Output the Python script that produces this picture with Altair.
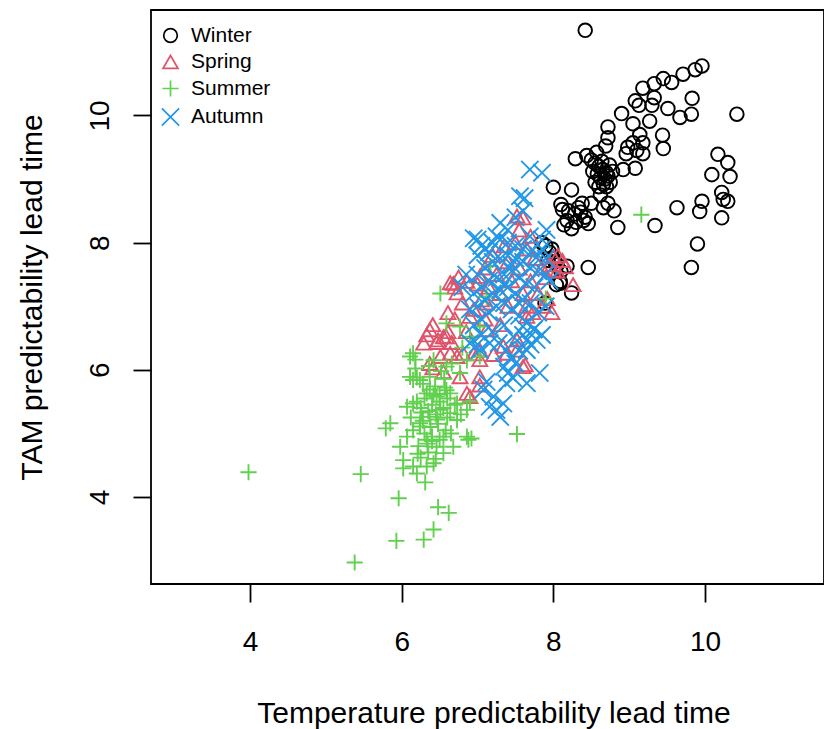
import altair as alt
import pandas as pd

seasons = ["Winter", "Spring", "Summer", "Autumn"]
colors = ["#000000", "#DF536B", "#61D04F", "#2297E6"]
shapes = ["circle", "triangle-up", "M-1,0L1,0M0,-1L0,1", "M-1,-1L1,1M-1,1L1,-1"]
sizes = [185, 300, 400, 225]
x_ticks = [4, 6, 8, 10]
y_ticks = [4, 6, 8, 10]

winter_x = [8.42, 9.96, 9.87, 9.71, 9.45, 9.56, 9.33, 9.18, 9.33, 9.08, 9.13, 9.30, 9.51, 9.83, 9.82,
            9.67, 10.42, 8.90, 9.27, 9.05, 8.72, 9.44, 9.45, 9.14, 9.18, 9.05, 8.98, 9.10, 8.96, 9.18,
            8.72, 8.69, 8.29, 8.44, 8.57, 8.50, 8.55, 8.60, 8.65, 8.70, 8.58, 8.62, 8.68, 8.72, 8.75,
            8.66, 8.55, 8.60, 8.70, 8.78, 8.52, 8.64, 8.74, 8.92, 9.08, 8.00, 8.24, 8.10, 8.12, 8.20,
            8.28, 8.33, 8.36, 8.42, 8.46, 8.30, 8.24, 8.18, 8.40, 8.38, 8.50, 8.14, 8.62, 8.72, 8.80,
            8.66, 8.85, 9.63, 9.34, 9.96, 9.93, 10.22, 10.24, 10.30, 10.09, 10.33, 10.30, 10.17, 10.22, 9.90,
            9.82, 8.46, 8.24, 8.04, 8.09, 7.90, 7.95, 8.00, 8.05, 8.10, 7.85, 7.98, 8.02, 7.89, 8.18,
            7.93, 8.09]
winter_y = [11.34, 10.78, 10.72, 10.65, 10.58, 10.52, 10.50, 10.43, 10.28, 10.23, 10.16, 10.16, 10.11, 10.27, 10.02,
            9.97, 10.02, 10.03, 9.91, 9.87, 9.82, 9.69, 9.48, 9.70, 9.57, 9.57, 9.50, 9.45, 9.40, 9.40,
            9.65, 9.52, 9.32, 9.37, 9.42, 9.30, 9.25, 9.20, 9.15, 9.10, 9.08, 9.02, 9.00, 9.05, 8.95,
            8.92, 8.95, 8.88, 8.88, 9.12, 9.12, 9.28, 9.22, 9.15, 9.17, 8.87, 8.83, 8.60, 8.52, 8.50,
            8.45, 8.55, 8.48, 8.40, 8.30, 8.32, 8.22, 8.35, 8.35, 8.62, 8.62, 8.28, 8.75, 8.62, 8.50,
            8.55, 8.24, 8.55, 8.27, 8.65, 8.49, 8.79, 8.68, 8.65, 9.07, 9.04, 9.26, 9.39, 8.39, 7.98,
            7.61, 7.61, 7.21, 7.34, 7.39, 7.95, 7.85, 7.75, 7.65, 7.55, 8.00, 7.90, 7.70, 7.05, 7.63,
            7.72, 7.36]

spring_x = [7.60, 7.52, 8.00, 8.26, 7.98, 7.63, 6.64, 6.73, 6.37, 6.61, 6.86, 7.03, 6.46, 6.66, 7.30,
            6.90, 7.03, 6.41, 6.55, 6.77, 7.52, 7.21, 7.34, 7.73, 7.86, 6.33, 7.10, 7.20, 7.35, 7.50,
            7.65, 7.75, 7.85, 7.40, 7.25, 7.15, 7.05, 6.95, 7.45, 7.55, 7.70, 7.60, 7.30, 7.00, 6.80,
            6.70, 6.85, 7.10, 7.40, 7.65, 7.80, 7.90, 8.05, 7.95, 7.70, 7.55, 8.06, 8.12, 8.16, 7.92,
            6.70, 6.75, 6.41, 6.48, 6.55, 6.61, 6.90, 7.12, 7.03, 7.39, 7.65, 7.03, 6.81, 6.64, 6.51,
            6.68, 6.29, 6.59, 6.37, 6.73, 7.03, 6.86, 7.60, 7.52, 8.00, 7.12, 6.95]
spring_y = [8.39, 8.42, 7.78, 7.34, 6.90, 6.08, 7.37, 7.21, 6.63, 6.90, 7.39, 7.47, 6.43, 6.43, 6.71,
            5.58, 5.76, 6.03, 5.97, 5.89, 6.47, 6.24, 6.37, 6.90, 7.00, 6.55, 7.60, 7.80, 7.95, 8.00,
            7.90, 7.75, 7.60, 7.70, 7.50, 7.30, 7.10, 6.95, 7.40, 7.60, 7.40, 7.20, 7.20, 7.35, 7.05,
            6.80, 6.60, 6.80, 7.00, 7.00, 7.20, 7.45, 7.55, 7.65, 8.10, 8.20, 7.80, 7.72, 7.62, 7.12,
            7.30, 7.46, 6.71, 6.47, 6.52, 6.60, 6.84, 6.63, 6.31, 6.26, 6.84, 6.16, 6.26, 6.26, 6.21,
            7.36, 6.42, 6.52, 6.10, 6.21, 5.89, 5.63, 6.05, 6.31, 7.57, 7.05, 6.25]

summer_x = [3.98, 5.46, 5.38, 5.93, 5.96, 6.29, 6.42, 6.48, 6.62, 6.31, 5.79, 7.52, 6.88, 6.92, 9.16,
            6.02, 6.11, 6.18, 6.15, 6.20, 6.37, 6.42, 6.50, 6.64, 6.73, 6.86, 6.90, 6.68, 6.55, 6.46,
            6.33, 6.24, 6.07, 5.98, 6.02, 6.15, 6.20, 6.33, 6.42, 6.20, 6.25, 6.30, 6.35, 6.40, 6.45,
            6.50, 6.55, 6.60, 6.28, 6.38, 6.48, 6.58, 6.30, 6.40, 6.50, 6.22, 6.35, 6.45, 6.25, 6.12,
            6.15, 6.60, 6.70, 6.78, 6.65, 6.51, 7.12, 7.90, 6.59, 6.77, 6.90, 7.03, 6.15, 6.42, 6.59,
            6.86, 7.03, 6.24, 6.11, 6.37, 6.77, 6.33, 6.46, 6.59, 6.73, 6.15, 6.07, 6.37, 6.51, 6.64,
            6.24, 5.85, 6.86, 6.40, 6.55, 7.17, 6.80, 6.28, 6.44, 6.56, 6.18, 6.36, 6.52, 6.66, 6.26,
            6.47, 6.34, 6.21, 6.57]
summer_y = [4.39, 4.36, 2.97, 3.31, 3.98, 3.33, 3.49, 3.84, 3.75, 4.23, 5.08, 4.99, 4.90, 4.92, 8.44,
            4.45, 6.21, 6.16, 5.84, 5.88, 5.69, 5.60, 5.62, 5.63, 5.21, 5.37, 5.50, 4.79, 4.69, 4.79,
            4.90, 5.11, 4.95, 4.79, 4.58, 4.48, 4.37, 4.48, 4.53, 5.50, 5.40, 5.55, 5.35, 5.45, 5.30,
            5.50, 5.40, 5.55, 5.20, 5.10, 5.15, 5.05, 5.00, 4.95, 4.90, 4.80, 4.70, 4.60, 4.62, 5.25,
            5.05, 5.25, 5.45, 5.30, 5.00, 7.20, 7.15, 7.12, 6.73, 6.68, 6.52, 6.68, 6.26, 6.15, 6.05,
            6.15, 6.21, 5.84, 5.89, 5.89, 5.95, 5.63, 5.58, 5.68, 5.47, 5.47, 5.42, 5.26, 5.37, 5.32,
            5.16, 5.16, 4.95, 4.88, 4.95, 7.63, 6.35, 5.78, 5.74, 5.86, 6.02, 6.06, 5.98, 6.10, 5.33,
            5.22, 4.84, 4.68, 5.72]

autumn_x = [7.69, 7.85, 7.56, 7.62, 6.95, 7.05, 7.30, 7.40, 7.69, 7.91, 7.85, 7.60, 7.50, 7.00, 7.10,
            7.20, 7.30, 7.40, 7.50, 7.60, 7.70, 7.80, 7.90, 7.00, 7.10, 7.20, 7.30, 7.40, 7.50, 7.60,
            7.70, 7.80, 7.90, 6.95, 7.05, 7.15, 7.25, 7.35, 7.45, 7.55, 7.65, 7.75, 6.90, 7.00, 7.10,
            7.20, 7.30, 7.40, 7.50, 7.60, 7.70, 6.95, 7.05, 7.15, 7.25, 7.35, 7.45, 7.55, 7.65, 7.75,
            7.85, 7.05, 7.20, 7.35, 7.00, 6.85, 6.80, 7.00, 7.82, 7.65, 7.38, 7.21, 7.34, 7.25, 7.30,
            7.16, 7.08, 7.47, 7.65, 7.74, 7.55, 7.45, 7.35, 7.50, 7.60, 7.70, 7.12, 7.40, 7.80, 7.90,
            7.95, 7.85, 7.65, 7.78, 7.47, 7.60, 6.90, 7.03, 7.16, 7.28, 7.38, 7.15, 7.25, 7.45, 7.35,
            7.55]
autumn_y = [9.15, 9.10, 8.73, 8.70, 8.07, 7.95, 8.31, 8.20, 8.10, 8.20, 8.05, 8.50, 8.40, 7.80, 7.90,
            8.00, 8.05, 8.00, 7.95, 7.90, 7.85, 7.80, 7.75, 7.50, 7.60, 7.70, 7.75, 7.80, 7.75, 7.70,
            7.60, 7.55, 7.50, 7.20, 7.30, 7.40, 7.45, 7.50, 7.55, 7.45, 7.35, 7.30, 6.95, 7.00, 7.10,
            7.20, 7.25, 7.30, 7.20, 7.10, 7.05, 6.70, 6.80, 6.90, 7.00, 7.05, 6.95, 6.85, 6.75, 6.65,
            6.55, 6.55, 6.60, 6.70, 6.40, 7.50, 7.30, 8.05, 5.95, 5.79, 5.79, 5.58, 5.47, 5.37, 5.26,
            5.42, 5.69, 5.87, 6.47, 6.63, 6.30, 6.20, 6.05, 6.10, 6.55, 6.40, 5.81, 5.95, 6.90, 7.00,
            7.40, 7.90, 6.31, 6.47, 6.52, 6.68, 6.42, 6.31, 6.42, 6.42, 6.31, 7.85, 8.10, 7.65, 7.35,
            7.05]

rows = []
for name, xs, ys in [("Winter", winter_x, winter_y), ("Spring", spring_x, spring_y),
                     ("Summer", summer_x, summer_y), ("Autumn", autumn_x, autumn_y)]:
    for xv, yv in zip(xs, ys):
        rows.append({"season": name, "x": xv, "y": yv})
df = pd.DataFrame(rows)
df["order"] = range(len(df))

FONT = "Liberation Sans"

legend = alt.Legend(
    title=None, orient="none", legendX=9, legendY=15,
    labelFontSize=21, labelFont=FONT, labelColor="black",
    symbolSize=110, symbolStrokeWidth=1.7, rowPadding=4.5, labelOffset=10,
    padding=0,
)

chart = alt.Chart(df).mark_point(filled=False, strokeWidth=1.9, opacity=1).encode(
    x=alt.X("x:Q",
            scale=alt.Scale(domain=[2.694, 11.569], nice=False, zero=False),
            axis=alt.Axis(values=x_ticks, grid=False, domain=False, tickSize=18, tickColor="black",
                          tickWidth=1.8, labelPadding=26, labelFontSize=28, labelFont=FONT,
                          labelColor="black", labelBaseline="top",
                          titleFont=FONT, titleFontSize=30, titleFontWeight="normal", titleColor="black",
                          titleX=342.5, titleY=138, titleAlign="center", titleBaseline="alphabetic"),
            title="Temperature predictability lead time"),
    y=alt.Y("y:Q",
            scale=alt.Scale(domain=[2.632, 11.659], nice=False, zero=False),
            axis=alt.Axis(values=y_ticks, grid=False, domain=False, tickSize=18, tickColor="black",
                          tickWidth=1.8, labelPadding=25, labelFontSize=28, labelFont=FONT,
                          labelColor="black",
                          labelAngle=270, labelAlign="center", labelBaseline="alphabetic",
                          titleFont=FONT, titleFontSize=30, titleFontWeight="normal", titleColor="black",
                          titleX=-110, titleY=287, titleAlign="center", titleAngle=270,
                          titleBaseline="alphabetic"),
            title="TAM predictability lead time"),
    color=alt.Color("season:N", scale=alt.Scale(domain=seasons, range=colors), legend=legend),
    shape=alt.Shape("season:N", scale=alt.Scale(domain=seasons, range=shapes), legend=legend),
    size=alt.Size("season:N", scale=alt.Scale(domain=seasons, range=sizes), legend=None),
    order=alt.Order("order:Q"),
).properties(
    width=673, height=574,
    padding={"left": 151, "top": 10, "right": 0, "bottom": 145},
    autosize="none",
    background="white",
).configure_view(
    stroke="black", strokeWidth=1.8
).configure_axis(
    labelFlush=False, labelOverlap=False,
)

chart.save("out.html", embed_options={"renderer": "svg", "actions": False})
